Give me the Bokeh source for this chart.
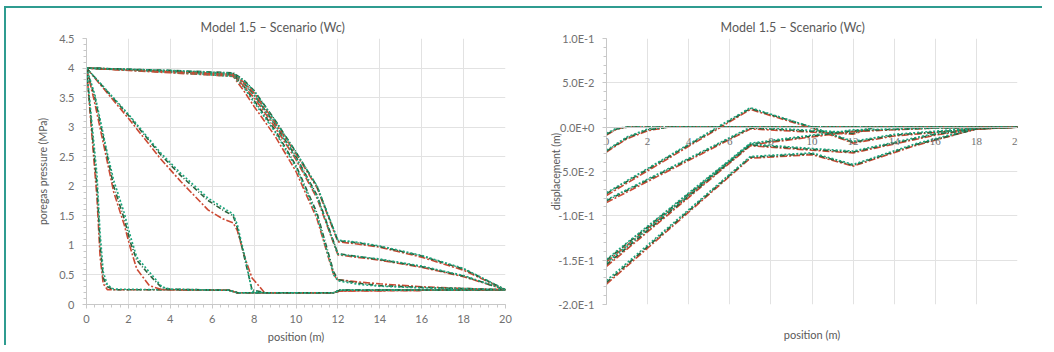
from bokeh.plotting import figure
from bokeh.layouts import row
from bokeh.models import (FixedTicker, NumeralTickFormatter, CustomJSTickFormatter, LabelSet,
                          ColumnDataSource, LinearAxis)
from bokeh.embed import file_html
from bokeh.resources import INLINE

# ---------------- data: left panel (poregas pressure, MPa) ----------------
x_ticks = [0, 2, 4, 6, 8, 10, 12, 14, 16, 18, 20]
x_tick_labels = ["0", "2", "4", "6", "8", "10", "12", "14", "16", "18", "20"]
p_ticks = [0, 0.5, 1, 1.5, 2, 2.5, 3, 3.5, 4, 4.5]
d_ticks = [-0.2, -0.15, -0.1, -0.05, 0.0, 0.05, 0.1]

PA_x = [0, 0.5, 0.65, 0.8, 1.0, 1.3, 4, 6.8, 7.2, 11.8, 12.1, 20]
PA_red = [4.0, 1.8, 0.8, 0.35, 0.25, 0.25, 0.25, 0.24, 0.20, 0.20, 0.23, 0.25]
PA_dkg = [4.0, 2.0, 1.0, 0.45, 0.30, 0.25, 0.25, 0.24, 0.20, 0.20, 0.24, 0.25]
PA_teal = [4.0, 2.2, 1.2, 0.55, 0.33, 0.26, 0.25, 0.24, 0.20, 0.20, 0.24, 0.25]

PB_x = [0, 0.4, 0.7, 1.0, 1.3, 1.8, 2.1, 2.4, 3.0, 3.6, 4.0, 6.8, 7.2, 11.8, 12.1, 20]
PB_red = [4.0, 3.4, 2.9, 2.4, 1.9, 1.35, 0.95, 0.6, 0.32, 0.25, 0.25, 0.24, 0.20, 0.20, 0.23, 0.25]
PB_dkg = [4.0, 3.5, 3.0, 2.5, 2.0, 1.45, 1.05, 0.75, 0.5, 0.28, 0.26, 0.24, 0.20, 0.20, 0.24, 0.25]
PB_teal = [4.0, 3.55, 3.05, 2.55, 2.1, 1.55, 1.15, 0.8, 0.55, 0.30, 0.26, 0.24, 0.20, 0.20, 0.24, 0.25]

PC_x = [0, 2, 3.5, 4.5, 5.8, 6.5, 7.0, 7.2, 7.6, 7.9, 8.5, 11.8, 12.1, 20]
PC_red = [4.0, 3.15, 2.48, 2.08, 1.6, 1.45, 1.38, 1.25, 0.75, 0.45, 0.20, 0.20, 0.23, 0.25]
PC_dkg = [4.0, 3.2, 2.55, 2.18, 1.76, 1.6, 1.5, 1.3, 0.7, 0.25, 0.20, 0.20, 0.24, 0.25]
PC_teal = [4.0, 3.22, 2.58, 2.22, 1.8, 1.64, 1.53, 1.35, 0.75, 0.22, 0.20, 0.20, 0.24, 0.25]

PD_x = [0, 4, 7.0, 7.5, 8.0, 9.0, 10.0, 11.0, 11.8, 12.0, 13.0, 14.0, 16.0, 18.0, 20]
PD_red = [4.0, 3.92, 3.86, 3.62, 3.35, 2.85, 2.25, 1.45, 0.50, 0.42, 0.38, 0.35, 0.30, 0.27, 0.25]
PD_dkg = [4.0, 3.95, 3.88, 3.70, 3.45, 2.95, 2.35, 1.55, 0.55, 0.42, 0.36, 0.32, 0.29, 0.27, 0.25]
PD_teal = [4.0, 3.93, 3.86, 3.68, 3.42, 2.92, 2.32, 1.50, 0.50, 0.40, 0.34, 0.31, 0.28, 0.27, 0.25]

PE_x = [0, 4, 7.0, 7.5, 8.0, 9.0, 10.0, 11.0, 12.0, 14.0, 16.0, 18.0, 20]
PE_red = [4.0, 3.93, 3.88, 3.70, 3.50, 3.00, 2.45, 1.80, 0.84, 0.75, 0.63, 0.47, 0.25]
PE_dkg = [4.0, 3.95, 3.90, 3.75, 3.55, 3.05, 2.50, 1.85, 0.86, 0.76, 0.64, 0.48, 0.25]
PE_teal = [4.0, 3.94, 3.89, 3.74, 3.54, 3.04, 2.48, 1.83, 0.85, 0.77, 0.65, 0.49, 0.25]

PF_x = [0, 4, 7.0, 7.5, 8.0, 9.0, 10.0, 11.0, 12.0, 13.0, 14.0, 16.0, 18.0, 20]
PF_red = [4.0, 3.94, 3.90, 3.76, 3.58, 3.08, 2.55, 1.98, 1.06, 1.02, 0.97, 0.80, 0.58, 0.25]
PF_dkg = [4.0, 3.96, 3.92, 3.80, 3.62, 3.12, 2.58, 2.00, 1.08, 1.04, 0.98, 0.82, 0.60, 0.25]
PF_teal = [4.0, 3.96, 3.91, 3.79, 3.61, 3.11, 2.57, 2.01, 1.09, 1.05, 0.99, 0.83, 0.61, 0.25]

# ---------------- data: right panel (displacement, m) ----------------
R1_x = [0, 0.5, 1, 20]
R1_red = [-0.009, -0.002, 0.0, 0.0]
R1_dkg = [-0.008, -0.002, 0.0, 0.0]
R1_teal = [-0.007, -0.001, 0.0, 0.0]

R2_x = [0, 1, 2, 3, 20]
R2_red = [-0.028, -0.013, -0.004, 0.0, 0.0]
R2_dkg = [-0.027, -0.012, -0.003, 0.0, 0.0]
R2_teal = [-0.026, -0.011, -0.002, 0.0, 0.0]

R3_x = [0, 7, 10, 12, 14, 18, 20]
R3_red = [-0.077, 0.020, -0.001, -0.018, -0.010, -0.002, 0.0]
R3_dkg = [-0.075, 0.021, 0.000, -0.017, -0.009, -0.002, 0.0]
R3_teal = [-0.074, 0.022, 0.000, -0.016, -0.008, -0.001, 0.0]

R4_x = [0, 7, 12, 13, 20]
R4_red = [-0.085, -0.002, -0.008, 0.0, 0.0]
R4_dkg = [-0.083, -0.001, -0.007, 0.0, 0.0]
R4_teal = [-0.082, 0.000, -0.006, 0.0, 0.0]

R5_x = [0, 7, 10, 12, 16, 20]
R5_red = [-0.152, -0.020, -0.011, -0.005, -0.001, 0.0]
R5_dkg = [-0.150, -0.019, -0.010, -0.004, -0.001, 0.0]
R5_teal = [-0.149, -0.018, -0.009, -0.003, -0.001, 0.0]

R6_x = [0, 7, 10, 12, 16, 18, 20]
R6_red = [-0.157, -0.021, -0.026, -0.029, -0.009, -0.002, 0.0]
R6_dkg = [-0.155, -0.020, -0.025, -0.028, -0.008, -0.002, 0.0]
R6_teal = [-0.153, -0.019, -0.024, -0.027, -0.007, -0.001, 0.0]

R7_x = [0, 7, 10, 12, 15, 18, 20]
R7_red = [-0.177, -0.035, -0.031, -0.044, -0.021, -0.002, 0.0]
R7_dkg = [-0.175, -0.034, -0.030, -0.043, -0.020, -0.002, 0.0]
R7_teal = [-0.173, -0.033, -0.029, -0.042, -0.019, -0.001, 0.0]

pressure_groups = [
    (PA_x, PA_red, PA_dkg, PA_teal), (PB_x, PB_red, PB_dkg, PB_teal),
    (PC_x, PC_red, PC_dkg, PC_teal), (PD_x, PD_red, PD_dkg, PD_teal),
    (PE_x, PE_red, PE_dkg, PE_teal), (PF_x, PF_red, PF_dkg, PF_teal),
]
disp_groups = [
    (R1_x, R1_red, R1_dkg, R1_teal), (R2_x, R2_red, R2_dkg, R2_teal),
    (R3_x, R3_red, R3_dkg, R3_teal), (R4_x, R4_red, R4_dkg, R4_teal),
    (R5_x, R5_red, R5_dkg, R5_teal), (R6_x, R6_red, R6_dkg, R6_teal),
    (R7_x, R7_red, R7_dkg, R7_teal),
]

TITLE = "Model 1.5 \u2013 Scenario (Wc)"
FONT = "Lato"
TXT = "#595959"
TICK_TXT = "#707070"
GRID = "#e2e2e2"
STYLES = [("#cc4a34", "7 2 2 2"), ("#2d5f3a", "5 2 1 2"), ("#19a67e", "2 2")]


def style_axis(ax):
    ax.axis_line_color = "#c8c8c8"
    ax.major_tick_line_color = "#c8c8c8"
    ax.minor_tick_line_color = "#c8c8c8"
    ax.major_tick_in = 0
    ax.major_tick_out = 4
    ax.minor_tick_in = 0
    ax.minor_tick_out = 3
    ax.major_label_text_font = FONT
    ax.major_label_text_font_size = "11px"
    ax.major_label_text_color = TICK_TXT
    ax.axis_label_text_font = FONT
    ax.axis_label_text_font_size = "11px"
    ax.axis_label_text_font_style = "normal"
    ax.axis_label_text_color = TXT


def base_fig(w, fw, fh, ml, mb, x_range, y_range):
    p = figure(width=w, frame_width=fw, frame_height=fh, min_border_left=ml,
               min_border_right=w - ml - fw, min_border_top=30, min_border_bottom=mb,
               x_range=x_range, y_range=y_range,
               output_backend="svg", toolbar_location=None, title=TITLE)
    p.title.align = "left"
    p.title.offset = 114
    p.title.text_font = FONT
    p.title.text_font_size = "12.5px"
    p.title.text_font_style = "normal"
    p.title.text_color = TXT
    p.title.standoff = 7
    p.outline_line_color = None
    p.background_fill_color = "white"
    p.border_fill_color = "white"
    p.xgrid.grid_line_color = GRID
    p.ygrid.grid_line_color = GRID
    style_axis(p.xaxis[0])
    style_axis(p.yaxis[0])
    p.yaxis.axis_label_text_font_size = "10.5px"
    return p


def draw(p, groups):
    for gx, *ys in groups:
        for yv, (col, dash) in zip(ys, STYLES):
            p.line(gx, yv, line_color=col, line_dash=dash, line_width=1.6)


# ---------------- left figure ----------------
p1 = base_fig(514, 419, 266, 80, 40, (0, 20), (0, 4.5))
p1.xaxis.ticker = FixedTicker(ticks=x_ticks, minor_ticks=[i * 0.4 for i in range(51)])
p1.yaxis.ticker = FixedTicker(ticks=p_ticks, minor_ticks=[i * 0.1 for i in range(46)])
p1.yaxis.formatter = NumeralTickFormatter(format="0.[0]")
p1.xaxis.axis_label = "position (m)"
p1.yaxis.axis_label = "poregas pressure (MPa)"
p1.xaxis.major_label_standoff = 6
p1.xaxis.axis_label_standoff = 4
p1.yaxis.major_label_standoff = 8
p1.yaxis.axis_label_standoff = 7
draw(p1, pressure_groups)

# ---------------- right figure ----------------
p2 = base_fig(522, 411, 266, 86, 40, (0, 20), (-0.2, 0.1))
p2.xaxis.ticker = FixedTicker(ticks=x_ticks)
p2.xaxis.fixed_location = 0
p2.xaxis.major_tick_out = 0
p2.xaxis.major_label_text_alpha = 0
p2.yaxis.ticker = FixedTicker(ticks=d_ticks, minor_ticks=[-0.2 + i * 0.01 for i in range(31)])
p2.yaxis.formatter = CustomJSTickFormatter(code="return tick.toExponential(1).replace('e','E');")
p2.yaxis.axis_label = "displacement (m)"
p2.yaxis.major_label_standoff = 8
p2.yaxis.axis_label_standoff = -7
draw(p2, disp_groups)
xlab_src = ColumnDataSource(data=dict(x=x_ticks, y=[0.0] * len(x_ticks), t=x_tick_labels))
p2.add_layout(LabelSet(x="x", y="y", text="t", source=xlab_src, text_align="center",
                       text_baseline="middle", y_offset=-14, text_font=FONT, level="overlay",
                       text_font_size="11px", text_color=TICK_TXT))
title_axis = LinearAxis(ticker=FixedTicker(ticks=[]), axis_label="position (m)")
style_axis(title_axis)
title_axis.axis_line_color = None
title_axis.major_tick_line_color = None
title_axis.minor_tick_line_color = None
title_axis.axis_label_standoff = 23
p2.add_layout(title_axis, "below")

layout = row(p1, p2, styles={"border-top": "2px solid #2f9c90", "border-left": "2px solid #2f9c90",
                             "margin-left": "4px", "margin-top": "6px"})

open("out.html", "w").write(file_html(layout, INLINE))
